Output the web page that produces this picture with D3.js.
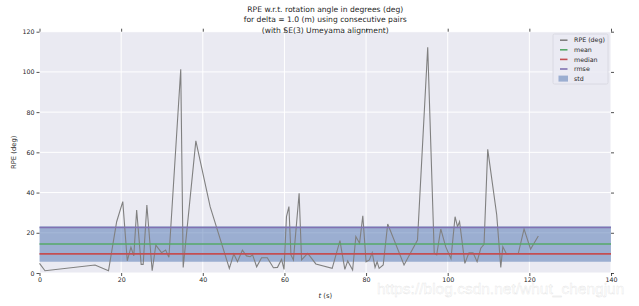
<!DOCTYPE html>
<html><head><meta charset="utf-8">
<script src="https://cdn.jsdelivr.net/npm/d3@7/dist/d3.min.js"></script>
<style>
html,body{margin:0;padding:0;background:#fff;}
svg{display:block;font-family:"DejaVu Sans",sans-serif;}
</style></head>
<body><svg id="c" width="639" height="306"></svg>
<script>
// ---- data ----
const times = [0,1.35,13.6,16.9,18.9,20.4,21.5,22.4,23.1,23.8,24.9,25.4,26.3,27.6,28.5,29.9,30.9,31.7,34.6,35.2,38.3,41.8,46.5,47.6,48.5,49.7,50.7,51.6,52.2,53.2,54.4,55.8,57.3,58.3,59.3,59.9,60.5,61.1,61.6,62.2,63.6,64.2,65.7,67.7,71.7,73.6,74.8,75.5,76.7,77.5,78.4,79.2,80.0,80.8,81.5,82.2,82.7,83.2,84.2,85.3,89.3,92.6,95.1,96.7,97.3,98.3,99.5,100.8,101.8,102.4,102.9,104.2,105.2,106.2,107.2,108.1,108.9,109.8,112.0,113.0,113.5,114.4,117.3,118.7,120.3,122.2];
const rpe = [4.8,1.1,4.0,1.1,25.5,35.5,6.1,12.8,8.5,31.3,4.3,4.3,33.8,1.1,13.9,10.1,11.4,7.8,101.3,2.8,65.7,33.0,2.3,9.5,5.6,11.4,8.5,8.1,9.0,3.1,7.6,7.6,2.6,2.8,6.8,1.8,28.0,33.0,9.0,6.5,39.6,6.5,9.8,4.5,2.3,16.1,1.8,6.0,1.5,18.1,14.8,28.4,5.6,6.5,10.1,2.8,5.6,2.3,4.0,24.4,4.0,16.4,112.3,9.8,9.0,21.9,13.1,7.1,28.0,23.0,25.5,4.8,10.1,10.1,5.6,12.3,14.3,61.5,29.0,2.8,13.1,9.5,9.8,21.9,11.9,18.4];
const statMean = 14.4, statMedian = 9.5, statRmse = 22.6, statStd = 8.8;
const xTicks = [0,20,40,60,80,100,120,140];
const yTicks = [0,20,40,60,80,100,120];
const titleLines = ["RPE w.r.t. rotation angle in degrees (deg)","for delta = 1.0 (m) using consecutive pairs","(with SE(3) Umeyama alignment)"];
const legendItems = ["RPE (deg)","mean","median","rmse","std"];

const svg = d3.select("#c");
const L = 39.5, R = 611, T = 31.7, B = 273;
const x = d3.scaleLinear().domain([0,140]).range([L,R]);
const y = d3.scaleLinear().domain([0,120]).range([B,T]);
const textCol = "#262626";

svg.append("rect").attr("x",L).attr("y",T).attr("width",R-L).attr("height",B-T).attr("fill","#EAEAF2");
// grid
svg.append("g").selectAll("line").data(xTicks).join("line")
  .attr("x1",d=>x(d)).attr("x2",d=>x(d)).attr("y1",T).attr("y2",B).attr("stroke","#fff").attr("stroke-width",1);
svg.append("g").selectAll("line").data(yTicks).join("line")
  .attr("y1",d=>y(d)).attr("y2",d=>y(d)).attr("x1",L).attr("x2",R).attr("stroke","#fff").attr("stroke-width",1);

// std band
svg.append("rect").attr("x",L).attr("width",R-L)
  .attr("y",y(statMean+statStd)).attr("height",y(statMean-statStd)-y(statMean+statStd))
  .attr("fill","#4C72B0").attr("fill-opacity",0.5);

// RPE line
const line = d3.line().x((d,i)=>x(times[i])).y(d=>y(d));
svg.append("path").datum(rpe).attr("d",line).attr("fill","none").attr("stroke","#808080").attr("stroke-width",1.1);

// stat lines
const stats = [[statMean,"#55A868"],[statMedian,"#C44E52"],[statRmse,"#8172B2"]];
svg.append("g").selectAll("line").data(stats).join("line")
  .attr("x1",L).attr("x2",R).attr("y1",d=>y(d[0])).attr("y2",d=>y(d[0]))
  .attr("stroke",d=>d[1]).attr("stroke-width",1.6);

// axes
function styleAxis(g){
  g.select(".domain").remove();
  g.selectAll(".tick line").attr("stroke",textCol).attr("stroke-width",0.8);
  g.selectAll(".tick text").attr("fill",textCol).style("font-size","6.3px").style("font-family","DejaVu Sans");
}
svg.append("g").attr("transform",`translate(0,${B})`).call(d3.axisBottom(x).tickValues(xTicks).tickSize(3).tickPadding(2)).call(styleAxis);
svg.append("g").attr("transform",`translate(0,${T})`).call(d3.axisTop(x).tickValues(xTicks).tickSize(3).tickFormat("")).call(styleAxis);
svg.append("g").attr("transform",`translate(${L},0)`).call(d3.axisLeft(y).tickValues(yTicks).tickSize(3).tickPadding(2)).call(styleAxis);
svg.append("g").attr("transform",`translate(${R},0)`).call(d3.axisRight(y).tickValues(yTicks).tickSize(3).tickFormat("")).call(styleAxis);

// labels
svg.append("text").attr("x",(L+R)/2).attr("y",298).attr("text-anchor","middle").attr("fill",textCol)
  .style("font-size","6.8px").html('<tspan font-style="italic">t</tspan> (s)');
svg.append("text").attr("transform",`translate(16,${(T+B)/2}) rotate(-90)`).attr("text-anchor","middle").attr("fill",textCol)
  .style("font-size","6.8px").text("RPE (deg)");
svg.append("g").selectAll("text").data(titleLines).join("text")
  .attr("x",(L+R)/2).attr("y",(d,i)=>11.5+i*10.9).attr("text-anchor","middle").attr("fill",textCol)
  .style("font-size","7.6px").text(d=>d);

// legend
const lg = svg.append("g").attr("transform","translate(553,34)");
lg.append("rect").attr("width",55).attr("height",50).attr("rx",1.5)
  .attr("fill","#EAEAF2").attr("fill-opacity",0.8).attr("stroke","#d6d6de").attr("stroke-width",0.8);
const lcols = ["#808080","#55A868","#C44E52","#8172B2","#4C72B0"];
legendItems.forEach((name,i)=>{
  const yy = 6.2 + i*9.6;
  if(i<4){
    lg.append("line").attr("x1",7).attr("x2",14.5).attr("y1",yy).attr("y2",yy).attr("stroke",lcols[i]).attr("stroke-width",1.6);
  } else {
    lg.append("rect").attr("x",5.5).attr("y",yy-3).attr("width",9.5).attr("height",6).attr("fill",lcols[i]).attr("fill-opacity",0.5);
  }
  lg.append("text").attr("x",21).attr("y",yy+2.2).attr("fill",textCol).style("font-size","6.3px").text(name);
});

// watermark
svg.append("text").attr("x",377).attr("y",294).attr("fill","#ffffff").attr("fill-opacity",0.75)
  .attr("stroke","#d8d8d8").attr("stroke-width",0.4).attr("stroke-opacity",0.7)
  .style("font-family","Liberation Sans, Arial, sans-serif").style("font-size","15.5px")
  .text("https://blog.csdn.net/whut_chengjun");
</script></body></html>
